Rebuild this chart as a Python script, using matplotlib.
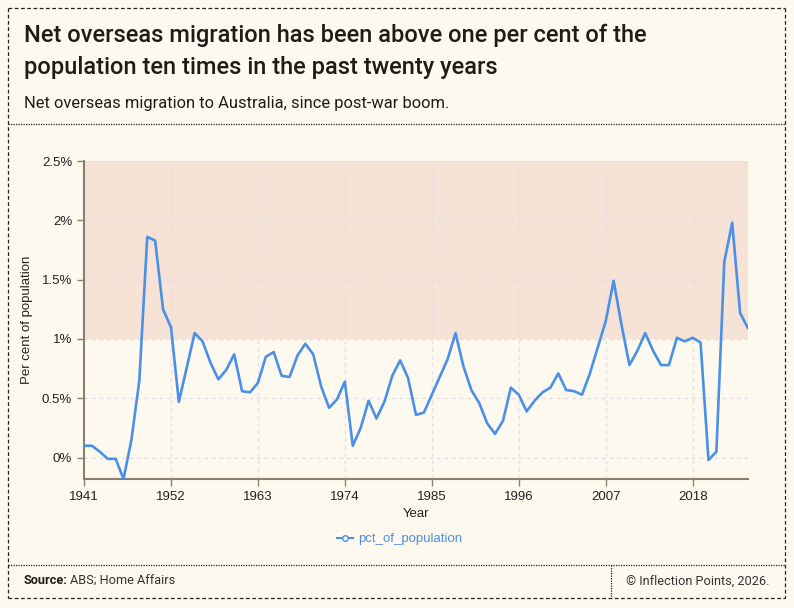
import matplotlib
matplotlib.use("Agg")
import matplotlib.pyplot as plt
from matplotlib.lines import Line2D
import numpy as np

# annual net overseas migration, per cent of population
years = list(range(1941, 2026))
pct_of_population = [
    0.10, 0.10, 0.05, -0.01, -0.01, -0.18, 0.15, 0.65, 1.86, 1.83,
    1.25, 1.10, 0.47, 0.76, 1.05, 0.98, 0.80, 0.66, 0.74, 0.87,
    0.56, 0.55, 0.63, 0.85, 0.89, 0.69, 0.68, 0.86, 0.96, 0.87,
    0.60, 0.42, 0.49, 0.64, 0.10, 0.25, 0.48, 0.33, 0.47, 0.69,
    0.82, 0.67, 0.36, 0.38, 0.53, 0.68, 0.83, 1.05, 0.77, 0.57,
    0.46, 0.29, 0.20, 0.31, 0.59, 0.53, 0.39, 0.48, 0.55, 0.59,
    0.71, 0.57, 0.56, 0.53, 0.71, 0.93, 1.15, 1.49, 1.12, 0.78,
    0.90, 1.05, 0.90, 0.78, 0.78, 1.01, 0.98, 1.01, 0.97, -0.02,
    0.05, 1.65, 1.98, 1.22, 1.09,
]
x_ticks = [1941, 1952, 1963, 1974, 1985, 1996, 2007, 2018]
y_ticks = [0, 0.5, 1, 1.5, 2, 2.5]
y_tick_labels = ["0%", "0.5%", "1%", "1.5%", "2%", "2.5%"]
band_low, band_high = 1.0, 2.5

title_lines = ["Net overseas migration has been above one per cent of the",
               "population ten times in the past twenty years"]
subtitle = "Net overseas migration to Australia, since post-war boom."
source = "ABS; Home Affairs"
credit = "\u00a9 Inflection Points, 2026."

BG = "#fef9ee"
BAND = "#f7e2d6"
LINE = "#4a8fe8"
AXIS = "#8a7f70"
GRID = "#e2dde6"
DARK = "#1f1b16"

W, H = 794, 608
fig = plt.figure(figsize=(W / 100, H / 100), dpi=100, facecolor=BG)


def fx(px):
    return px / W


def fy(py):
    return 1 - py / H


# frame lines
def frame(x0, y0, x1, y1, ls):
    fig.add_artist(Line2D([fx(x0), fx(x1)], [fy(y0), fy(y1)], color="#222222",
                          lw=0.9, linestyle=ls, transform=fig.transFigure))


frame(8, 8, 785, 8, (0, (3, 2)))
frame(8, 8, 8, 598, (0, (3, 2)))
frame(785, 8, 785, 598, (0, (3, 2)))
frame(8, 598, 785, 598, (0, (3, 2)))
frame(8, 124, 785, 124, (0, (1, 1)))
frame(8, 565, 785, 565, (0, (1, 1)))
frame(611, 565, 611, 598, (0, (1, 1)))

for i, line in enumerate(title_lines):
    fig.text(fx(24), fy(42 + 32 * i), line, ha="left", va="baseline",
             fontsize=17, family="Roboto", weight="medium", color=DARK)
fig.text(fx(24), fy(108), subtitle, ha="left", va="baseline", fontsize=11.9,
         family="Roboto", color=DARK)

ax = fig.add_axes([fx(84), fy(479), fx(748 - 84), (479 - 161) / H])
ax.set_facecolor(BG)
ax.axhspan(band_low, band_high, color=BAND, zorder=0, lw=0)
ax.plot(years, pct_of_population, color=LINE, lw=1.9, zorder=3,
        solid_joinstyle="round", solid_capstyle="round")

ax.set_xlim(1941, 2025)
ax.set_ylim(-0.18, 2.5)
ax.set_xticks(x_ticks)
ax.set_yticks(y_ticks)
ax.set_yticklabels(y_tick_labels)
ax.set_axisbelow(True)
ax.grid(True, color=GRID, lw=0.9, linestyle=(0, (3, 3)), zorder=1)
ax.axvline(2025, color=GRID, lw=0.9, linestyle=(0, (3, 3)), zorder=1)

for side in ["top", "right"]:
    ax.spines[side].set_visible(False)
for side in ["left", "bottom"]:
    ax.spines[side].set_color(AXIS)
    ax.spines[side].set_linewidth(1.5)
ax.tick_params(axis="both", colors=AXIS, length=5, width=1, labelcolor="#222222",
               labelsize=9.5)
for lab in ax.get_xticklabels() + ax.get_yticklabels():
    lab.set_family("Liberation Sans")

ax.set_xlabel("Year", family="Liberation Sans", fontsize=9.5, color="#222222",
              labelpad=4)
ax.set_ylabel("Per cent of population", family="Liberation Sans", fontsize=9.5,
              color="#222222", labelpad=6)

# legend
fig.legend([Line2D([], [], color=LINE, lw=1.5, marker="o", markersize=4,
                   markerfacecolor=BG, markeredgecolor=LINE)],
           ["pct_of_population"], loc="center", bbox_to_anchor=(fx(400), fy(539)),
           frameon=False, handlelength=1.2, handletextpad=0.4,
           prop={"family": "Liberation Sans", "size": 9.5}, labelcolor=LINE)

# footer
fig.text(fx(24), fy(581), "Source:", ha="left", va="center", fontsize=9.2,
         family="Roboto", weight="bold", color=DARK)
fig.text(fx(70), fy(581), source, ha="left", va="center", fontsize=9.2,
         family="Roboto", color="#333333")
fig.text(fx(770), fy(581), credit, ha="right", va="center", fontsize=9.2,
         family="Roboto", color="#333333")

fig.savefig("out.png", dpi=100, facecolor=BG)
